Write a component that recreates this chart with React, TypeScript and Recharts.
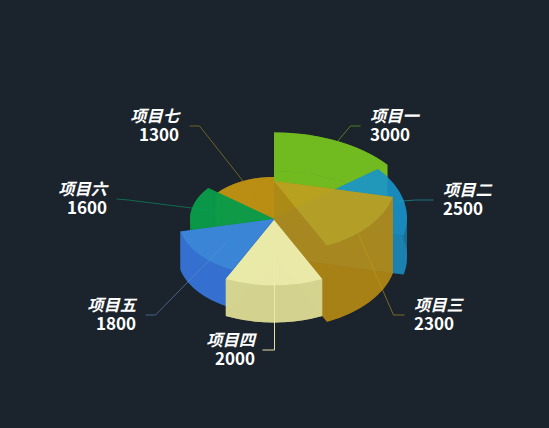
import React from "react";
import { PieChart, Pie } from "recharts";

const names = ["项目一", "项目二", "项目三", "项目四", "项目五", "项目六", "项目七"];
const values = [3000, 2500, 2300, 2000, 1800, 1600, 1300];
const topColors = ["#72bd20", "#1896cd", "#c0a520", "#ecebaa", "#3c87d8", "#0a9a48", "#bc8f12"];
const wallColors = ["#78c020", "#1b8cbe", "#b08716", "#d4d48f", "#3570d0", "#0a9a48", "#c49512"];
const lineColors = ["#72bd20", "#1aa8b8", "#c09a20", "#ecebaa", "#6090c8", "#0a9a68", "#a89020"];
const faceOpacity = [0.85, 0.7, 0.75, 0.93, 0.9, 0.85, 0.85];
const radii = [145, 133, 122, 111, 96, 84, 73];
const heights = [39, 39, 76, 37, 38, 38, 37];
const paintOrder = [6, 0, 5, 1, 4, 2, 3];
const anchorFractions = [0.8, 0.95, 0.8, 0.58, 0.62, 0.7, 0.6];
const lineOpacity = [0.6, 0.6, 0.6, 0.95, 0.6, 0.6, 0.6];
const textGaps = [10, 10, 10, -7, -9, -9, -10];
// label elbows, as offsets from the centre of the base plane
const elbows = [
  [[76, -131], [86, -131]],
  [[141, -57], [159, -57]],
  [[119, 58], [130, 58]],
  [[0, 93], [-12, 93]],
  [[-119, 58], [-129, 58]],
  [[-146, -57], [-158, -58]],
  [[-75, -131], [-85, -131]],
];
const TILT = 0.59;
const CX = 274;
const CY = 257;
const WALL_STEPS = 30;

const table = names.map((name, i) => ({
  name,
  value: values[i],
  top: topColors[i],
  wall: wallColors[i],
  opacity: faceOpacity[i],
  radius: radii[i],
  height: heights[i],
  index: i,
}));

const project = (cx: number, cy: number, r: number, deg: number) => {
  const a = (deg * Math.PI) / 180;
  return { x: cx + r * Math.cos(a), y: cy - r * TILT * Math.sin(a) };
};

const wedge3d = (only: number) => (props: any) => {
  const { cx, cy, startAngle, endAngle, payload } = props;
  const d = payload ?? props;
  if (d.index !== only) return <g />;
  const { radius: r, height: h, top: topFill, wall: wallFill, opacity } = d;
  const ry = r * TILT;
  const p1 = project(cx, cy, r, startAngle);
  const p2 = project(cx, cy, r, endAngle);
  const top = cy - h;
  const arcTo = (x: number, y: number, sweep: number) => `A ${r} ${ry} 0 0 ${sweep} ${x} ${y}`;
  const bottomPath = `M ${cx} ${cy} L ${p1.x} ${p1.y} ${arcTo(p2.x, p2.y, 1)} Z`;
  const topPath = `M ${cx} ${top} L ${p1.x} ${p1.y - h} ${arcTo(p2.x, p2.y - h, 1)} Z`;
  // the curved wall: narrow quads, so that its silhouette stays upright at the ellipse's extremes
  const quads: string[] = [];
  for (let k = 0; k < WALL_STEPS; k++) {
    const a = project(cx, cy, r, startAngle + ((endAngle - startAngle) * k) / WALL_STEPS);
    const b = project(cx, cy, r, startAngle + ((endAngle - startAngle) * (k + 1)) / WALL_STEPS);
    const [u, v] = b.x >= a.x ? [a, b] : [b, a];
    quads.push(`M ${u.x} ${u.y - h} L ${v.x} ${v.y - h} L ${v.x} ${v.y} L ${u.x} ${u.y} Z`);
  }
  const radial = (p: { x: number; y: number }) =>
    `M ${cx} ${top} L ${p.x} ${p.y - h} L ${p.x} ${p.y} L ${cx} ${cy} Z`;
  return (
    <g fillOpacity={opacity} stroke="none">
      <path d={bottomPath} fill={wallFill} />
      <path d={radial(p1)} fill={wallFill} />
      <path d={radial(p2)} fill={wallFill} />
      <path d={quads.join(" ")} fill={wallFill} />
      <path d={topPath} fill={topFill} />
    </g>
  );
};

const labelFont = '"Noto Sans CJK SC", "Noto Sans", sans-serif';

const renderLabel = (props: any) => {
  const { cx, cy, midAngle, payload } = props;
  const d = payload ?? props;
  const i = d.index;
  const start = project(cx, cy - d.height, d.radius * anchorFractions[i], midAngle);
  const [e1, e2] = elbows[i];
  const x1 = cx + e1[0];
  const y1 = cy + e1[1];
  const x2 = cx + e2[0];
  const y2 = cy + e2[1];
  const right = e2[0] > e1[0];
  const tx = x2 + textGaps[i];
  return (
    <g>
      <polyline
        transform="translate(0.5,0)"
        points={`${start.x},${start.y} ${x1},${y1} ${x2},${y2}`}
        fill="none"
        stroke={lineColors[i]}
        strokeOpacity={lineOpacity[i]}
        strokeWidth={1}
      />
      <text
        x={tx}
        y={y2 - 4}
        textAnchor={right ? "start" : "end"}
        fill="#fff"
        fontFamily={labelFont}
        fontSize={16.3}
        fontWeight={700}
        fontStyle="italic"
      >
        {d.name}
      </text>
      <text
        x={tx}
        y={y2 + 15}
        textAnchor={right ? "start" : "end"}
        fill="#fff"
        fontFamily={labelFont}
        fontSize={17}
        fontWeight={700}
      >
        {d.value}
      </text>
    </g>
  );
};

export default function App() {
  return (
    <div style={{ position: "absolute", left: 0, top: 0, width: 549, height: 428, background: "#1b232c" }}>
      <style>{"html,body{margin:0;background:#1b232c}"}</style>
      <PieChart width={549} height={428} margin={{ top: 0, right: 0, bottom: 0, left: 0 }}>
        {paintOrder.map((k) => (
          <Pie
            key={k}
            data={table}
            dataKey={() => 1}
            nameKey="name"
            cx={CX}
            cy={CY}
            innerRadius={0}
            outerRadius={145}
            startAngle={90}
            endAngle={-270}
            shape={wedge3d(k)}
            label={false}
            labelLine={false}
            isAnimationActive={false}
            stroke="none"
          />
        ))}
        <Pie
          key="labels"
          data={table}
          dataKey={() => 1}
          nameKey="name"
          cx={CX}
          cy={CY}
          innerRadius={0}
          outerRadius={145}
          startAngle={90}
          endAngle={-270}
          shape={() => <g />}
          label={renderLabel}
          labelLine={false}
          isAnimationActive={false}
          stroke="none"
        />
      </PieChart>
    </div>
  );
}
